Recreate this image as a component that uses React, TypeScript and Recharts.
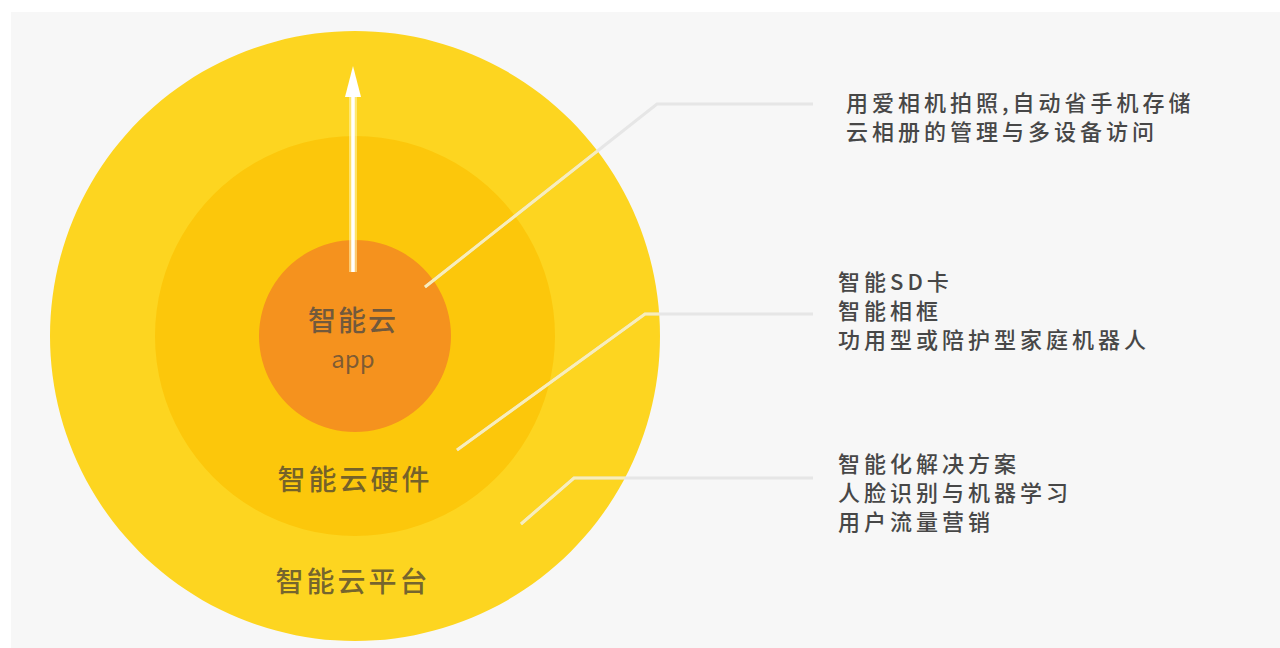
import { PieChart, Pie, Cell } from "recharts"

// rings from outside in
const layerNames = ["智能云平台", "智能云硬件", "智能云"]
const layerSubNames = ["", "", "app"]
const layerValues = [1, 1, 1]
const layerColors = ["#fdd520", "#fcc70b", "#f5921e"]

// descriptions to the right, top block belongs to the inner ring
const appNotes = ["用爱相机拍照,自动省手机存储", "云相册的管理与多设备访问"]
const hardwareNotes = ["智能SD卡", "智能相框", "功用型或陪护型家庭机器人"]
const platformNotes = ["智能化解决方案", "人脸识别与机器学习", "用户流量营销"]

const WIDTH = 1280
const HEIGHT = 648
const CX = 355
const CY = 336
const RADII = [305, 200, 96]

const FONT = "'Noto Sans CJK SC', 'Noto Sans', sans-serif"

function Overlay() {
  const notes = [
    { lines: appNotes, y: 101, x: 846, path: "M425,287 L657,104 L813,104" },
    { lines: hardwareNotes, y: 280, x: 838, path: "M457,450 L645,314 L813,314" },
    { lines: platformNotes, y: 462, x: 838, path: "M521,524 L574,478 L813,478" },
  ]
  return (
    <svg width={WIDTH} height={HEIGHT} style={{ position: "absolute", left: 0, top: 0, pointerEvents: "none" }}>
      <defs>
        <clipPath id="inside">
          <circle cx={CX} cy={CY} r={RADII[0]} />
        </clipPath>
      </defs>
      {notes.map((n, i) => (
        <g key={`note-${i}`}>
          <path d={n.path} fill="none" stroke="#e6e6e6" strokeWidth={3} />
          <path d={n.path} fill="none" stroke="rgba(255,240,170,0.75)" strokeWidth={2.5} clipPath="url(#inside)" />
          {n.lines.map((t, j) => (
            <text
              key={t}
              x={n.x}
              y={n.y + j * 29}
              dominantBaseline="central"
              fontFamily={FONT}
              fontSize={22}
              fontWeight={500}
              letterSpacing={4}
              fill="#474747"
            >
              {t}
            </text>
          ))}
        </g>
      ))}

      {/* arrow */}
      <line x1={353} y1={272} x2={353} y2={92} stroke="rgba(255,246,180,0.55)" strokeWidth={8} />
      <line x1={353} y1={272} x2={353} y2={92} stroke="#ffffff" strokeWidth={3.5} />
      <polygon points="353,66 345,97 361,97" fill="#ffffff" />

      {/* ring labels */}
      <text x={CX - 2} y={319} textAnchor="middle" dominantBaseline="central" fontFamily={FONT} fontSize={28} fontWeight={500} letterSpacing={2} fill="rgba(70,70,70,0.75)">
        {layerNames[2]}
      </text>
      <text x={CX - 2} y={357} textAnchor="middle" dominantBaseline="central" fontFamily={FONT} fontSize={24} fill="rgba(80,70,60,0.72)">
        {layerSubNames[2]}
      </text>
      <text x={CX} y={478} textAnchor="middle" dominantBaseline="central" fontFamily={FONT} fontSize={28} fontWeight={500} letterSpacing={3} fill="rgba(80,70,50,0.78)">
        {layerNames[1]}
      </text>
      <text x={CX - 2} y={580} textAnchor="middle" dominantBaseline="central" fontFamily={FONT} fontSize={28} fontWeight={500} letterSpacing={3} fill="rgba(80,70,50,0.78)">
        {layerNames[0]}
      </text>
    </svg>
  )
}

export default function App() {
  return (
    <div style={{ position: "fixed", left: 0, top: 0, width: WIDTH, height: HEIGHT, background: "#ffffff" }}>
      <div style={{ position: "absolute", left: 11, top: 12, right: 0, bottom: 0, background: "#f7f7f7" }} />
      <div style={{ position: "absolute", left: 0, top: 0 }}>
        <PieChart width={WIDTH} height={HEIGHT} margin={{ top: 0, right: 0, bottom: 0, left: 0 }}>
          {layerNames.map((name, i) => (
            <Pie
              key={name}
              data={[{ name, value: layerValues[i] }]}
              dataKey="value"
              cx={CX}
              cy={CY}
              innerRadius={0}
              outerRadius={RADII[i]}
              startAngle={90}
              endAngle={-270}
              stroke="none"
              isAnimationActive={false}
            >
              <Cell fill={layerColors[i]} />
            </Pie>
          ))}
        </PieChart>
      </div>
      <Overlay />
    </div>
  )
}
